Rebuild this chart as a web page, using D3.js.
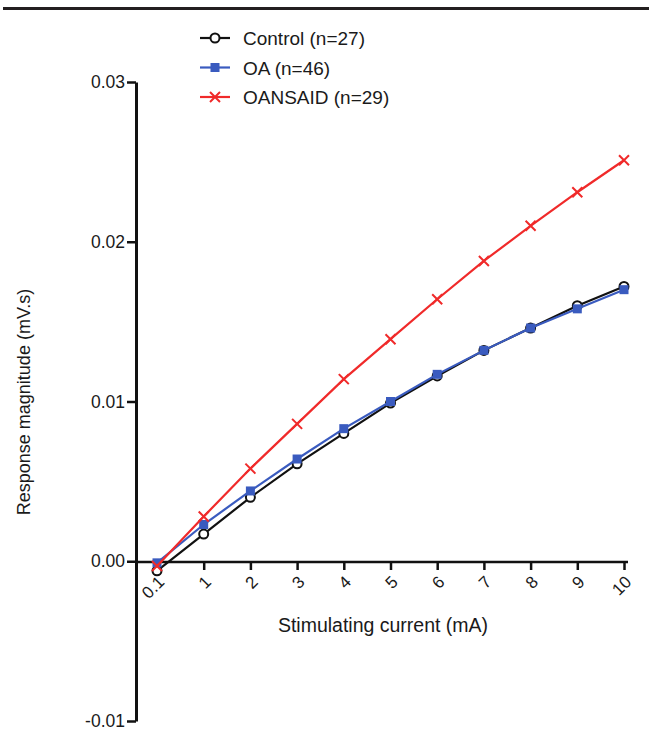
<!DOCTYPE html>
<html>
<head>
<meta charset="utf-8">
<script src="https://cdn.jsdelivr.net/npm/d3@7"></script>
<style>
  body { margin: 0; background: #fff; }
  text { font-family: "Liberation Sans", Arial, sans-serif; }
</style>
</head>
<body>
<div id="chart"></div>
<script>
// x categories (stimulating current, mA)
var currents = ['0.1', '1', '2', '3', '4', '5', '6', '7', '8', '9', '10'];

// response magnitude (mV.s)
var control = [-0.0006, 0.0017, 0.0040, 0.0061, 0.0080, 0.0099, 0.0116, 0.0132, 0.0146, 0.0160, 0.0172];
var oa      = [-0.0001, 0.0023, 0.0044, 0.0064, 0.0083, 0.0100, 0.0117, 0.0132, 0.0146, 0.0158, 0.0170];
var oansaid = [-0.0003, 0.0028, 0.0058, 0.0086, 0.0114, 0.0139, 0.0164, 0.0188, 0.0210, 0.0231, 0.0251];

var yTicks = [-0.01, 0.00, 0.01, 0.02, 0.03];
var yTickLabels = ['-0.01', '0.00', '0.01', '0.02', '0.03'];

var series = [
    { name: 'Control (n=27)', values: control, color: '#111', marker: 'circle' },
    { name: 'OA (n=46)', values: oa, color: '#3a5bbf', marker: 'square' },
    { name: 'OANSAID (n=29)', values: oansaid, color: '#f02a2a', marker: 'cross' }
];

var W = 649, H = 730;
var svg = d3.select('#chart').append('svg')
    .attr('width', W)
    .attr('height', H);

// top rule
svg.append('rect')
    .attr('x', 3).attr('y', 7)
    .attr('width', W - 3).attr('height', 3)
    .attr('fill', '#231f20');

var axisX = 136, zeroY = 562;

var x = d3.scalePoint()
    .domain(currents)
    .range([157, 624]);

var y = d3.scaleLinear()
    .domain([-0.01, 0.03])
    .range([721, 82]);

// y axis
var yAxis = svg.append('g')
    .attr('transform', 'translate(' + axisX + ',0)')
    .call(d3.axisLeft(y).tickValues(yTicks)
        .tickFormat(function(d, i){ return yTickLabels[i]; })
        .tickSize(9).tickSizeOuter(0));
yAxis.select('.domain').attr('stroke', '#111').attr('stroke-width', 3);
yAxis.selectAll('.tick line').attr('stroke', '#111').attr('stroke-width', 2.5);
yAxis.selectAll('.tick text')
    .attr('x', -11)
    .attr('fill', '#1a1a1a')
    .style('font-size', '17.5px');

// x axis at zero
var xAxis = svg.append('g')
    .attr('transform', 'translate(0,' + zeroY + ')')
    .call(d3.axisBottom(x).tickSize(8).tickSizeOuter(0));
xAxis.select('.domain')
    .attr('d', 'M' + axisX + ',0H' + 628)
    .attr('stroke', '#111').attr('stroke-width', 2.5);
xAxis.selectAll('.tick line').attr('stroke', '#111').attr('stroke-width', 2.5);
xAxis.selectAll('.tick text')
    .attr('fill', '#1a1a1a')
    .style('font-size', '17px')
    .attr('text-anchor', 'end')
    .attr('dy', 0)
    .attr('y', 0)
    .attr('transform', 'translate(8,21) rotate(-45)');

// axis titles
svg.append('text')
    .attr('x', 383).attr('y', 632)
    .attr('text-anchor', 'middle')
    .attr('fill', '#1a1a1a')
    .style('font-size', '19.5px')
    .text('Stimulating current (mA)');

svg.append('text')
    .attr('transform', 'translate(30,402) rotate(-90)')
    .attr('text-anchor', 'middle')
    .attr('fill', '#1a1a1a')
    .style('font-size', '18px')
    .text('Response magnitude (mV.s)');

var line = d3.line()
    .x(function(d, i){ return x(currents[i]); })
    .y(function(d){ return y(d); });

function drawMarker(g, s, cx, cy) {
    if (s.marker === 'circle') {
        g.append('circle').attr('cx', cx).attr('cy', cy).attr('r', 4.5)
            .attr('fill', '#fff').attr('stroke', s.color).attr('stroke-width', 2);
    } else if (s.marker === 'square') {
        g.append('rect').attr('x', cx - 4.5).attr('y', cy - 4.5)
            .attr('width', 9).attr('height', 9).attr('fill', s.color);
    } else {
        g.append('path')
            .attr('d', 'M' + (cx - 5) + ',' + (cy - 5) + 'L' + (cx + 5) + ',' + (cy + 5) +
                       'M' + (cx - 5) + ',' + (cy + 5) + 'L' + (cx + 5) + ',' + (cy - 5))
            .attr('stroke', s.color).attr('stroke-width', 2).attr('fill', 'none');
    }
}

series.forEach(function(s){
    var g = svg.append('g');
    g.append('path')
        .datum(s.values)
        .attr('d', line)
        .attr('fill', 'none')
        .attr('stroke', s.color)
        .attr('stroke-width', 2.2);
    s.values.forEach(function(v, i){
        drawMarker(g, s, x(currents[i]), y(v));
    });
});

// legend
series.forEach(function(s, i){
    var ly = 38 + i * 29.5;
    var g = svg.append('g');
    g.append('line')
        .attr('x1', 200).attr('x2', 230)
        .attr('y1', ly).attr('y2', ly)
        .attr('stroke', s.color).attr('stroke-width', 2.2);
    drawMarker(g, s, 215, ly);
    g.append('text')
        .attr('x', 243).attr('y', ly + 7)
        .attr('fill', '#1a1a1a')
        .style('font-size', '19px')
        .text(s.name);
});
</script>
</body>
</html>
